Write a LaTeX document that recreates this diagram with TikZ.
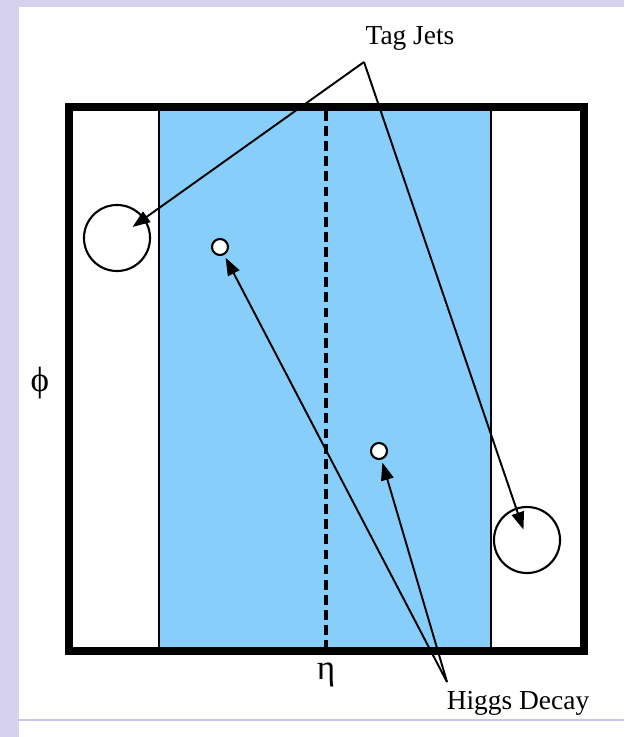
\documentclass[tikz,border=0pt]{standalone}
\usepackage{fontspec}
\setmainfont{Liberation Serif}
\usepackage{xcolor}
\definecolor{hgsky}{RGB}{135,206,250}
\definecolor{hglavender}{RGB}{214,210,238}
\definecolor{hgrule}{RGB}{200,196,240}
\usetikzlibrary{arrows.meta, calc}

\begin{document}
\begin{tikzpicture}[x=0.01cm, y=-0.01cm,
  jet/.style={circle, draw, line width=0.6pt, minimum size=0.66cm, inner sep=0pt},
  decay/.style={circle, draw, fill=white, line width=0.6pt, minimum size=0.16cm, inner sep=0pt},
  lbl/.style={font=\fontsize{7.8}{9}\selectfont, inner sep=0pt},
  axislbl/.style={font=\fontsize{10}{12}\selectfont, inner sep=0pt},
  ptr/.style={-{Triangle[length=5pt, width=3.6pt]}, line width=0.55pt}]
  % Background
  \useasboundingbox (0,0) rectangle (624,737);
  \fill[white] (0,0) rectangle (624,737);
  \fill[hglavender] (0,0) rectangle (19,737);
  \fill[hglavender] (0,0) rectangle (624,7);
  \draw[hgrule, line width=0.5pt] (19,720) -- (624,720);

  % Central region
  \fill[hgsky] (159,107) rectangle (491,651);
  \draw[line width=0.7pt] (159,107) -- (159,651);
  \draw[line width=0.7pt] (491,107) -- (491,651);
  \draw[line width=1pt, dash pattern=on 2.8pt off 1.5pt] (326,111) -- (326,647);

  % Frame
  \draw[line width=2.3pt] (69,107) rectangle (584,651);

  % Axis labels
  \node[axislbl] (phi) at (40,383) {ϕ};
  \node[axislbl, anchor=north] (eta) at (326,662) {η};

  % Jets and decay products
  \node[jet] (jetL) at (117,238) {};
  \node[jet] (jetR) at (527,540) {};
  \node[decay] (hA) at (220,247) {};
  \node[decay] (hB) at (379,451) {};

  % Labels
  \node[lbl] (tagjets) at (410,38) {Tag Jets};
  \node[lbl] (higgs) at (518,703) {Higgs Decay};
  \coordinate (tagapex) at (364,62);
  \coordinate (higgsapex) at (447,682);

  % Pointers
  \draw[ptr, shorten >=0.19cm] (tagapex) -- (jetL.center);
  \draw[ptr, shorten >=0.11cm] (tagapex) -- (jetR.center);
  \draw[ptr, shorten >=0.03cm] (higgsapex) -- (hA);
  \draw[ptr, shorten >=0.03cm] (higgsapex) -- (hB);
\end{tikzpicture}
\end{document}
